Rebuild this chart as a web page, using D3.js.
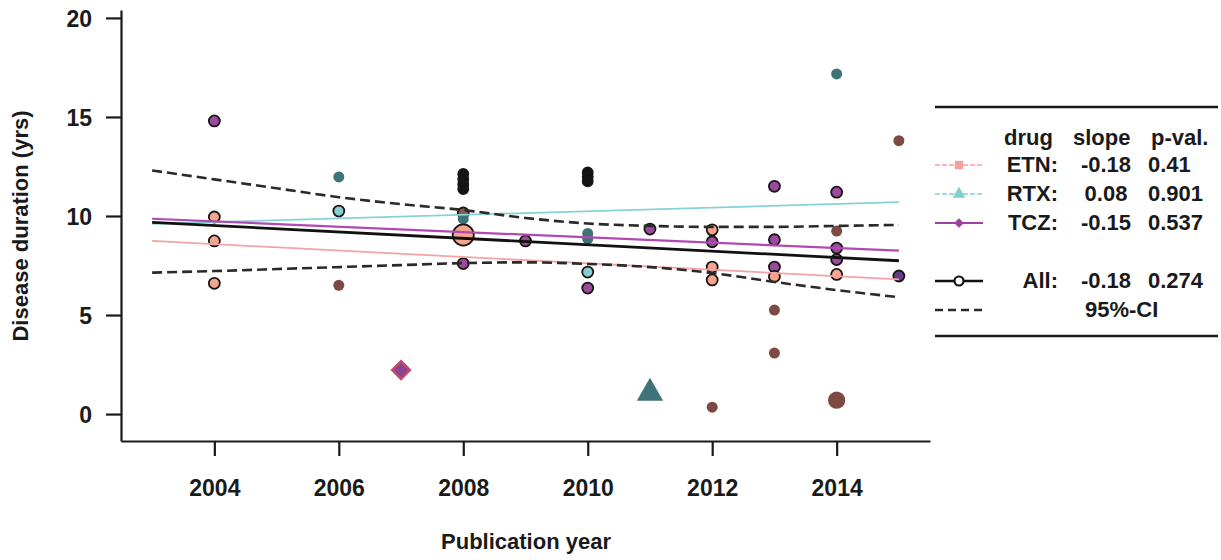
<!DOCTYPE html>
<html>
<head>
<meta charset="utf-8">
<script src="https://cdn.jsdelivr.net/npm/d3@7"></script>
<style>
  body { margin: 0; background: #fff; }
  svg text { font-family: "Liberation Sans", Arial, sans-serif; fill: #1a1a1a; }
</style>
</head>
<body>
<div id="chart"></div>
<script>
// Disease duration vs publication year, by drug

// Study points
var ptYear  = [2004, 2004, 2004, 2004,
               2006, 2006, 2006,
               2008, 2008, 2008, 2008, 2008, 2008, 2008, 2008,
               2009,
               2010, 2010, 2010, 2010, 2010, 2010, 2010,
               2011,
               2012, 2012, 2012, 2012, 2012,
               2013, 2013, 2013, 2013, 2013, 2013,
               2014, 2014, 2014, 2014, 2014, 2014, 2014,
               2015, 2015];
var ptValue = [14.8, 9.95, 8.74, 6.6,
               11.97, 10.25, 6.5,
               12.12, 11.86, 11.6, 11.36, 10.15, 9.85, 9.04, 7.6,
               8.74,
               12.2, 11.97, 11.75, 9.12, 8.85, 7.17, 6.36,
               9.34,
               9.3, 8.7, 7.42, 6.77, 0.35,
               11.5, 8.8, 7.42, 6.95, 5.25, 3.08,
               17.17, 11.2, 9.24, 8.38, 7.8, 7.05, 0.7,
               13.8, 6.97];
var ptGroup = ["tcz", "etn", "etn", "etn",
               "rtxAlt", "rtx", "oth",
               "all", "all", "all", "all", "othLine", "rtxAlt", "etn", "tcz",
               "tcz",
               "all", "all", "all", "rtxAlt", "rtxAlt", "rtx", "tcz",
               "tcz",
               "etn", "tcz", "etn", "etn", "oth",
               "tcz", "tcz", "tcz", "etn", "oth", "oth",
               "rtxAlt", "tcz", "oth", "tcz", "tcz", "etn", "oth",
               "oth", "tczDark"];
var ptWeight = [1, 1, 1, 1,
                1, 1, 1,
                0.85, 0.85, 0.85, 0.85, 1, 1, 3.4, 1,
                1,
                0.85, 0.85, 0.85, 1, 1, 1, 1,
                1,
                1, 1, 1, 1, 1,
                1, 1, 1, 1, 1, 1,
                1, 1, 1, 1, 1, 1, 2.3,
                1, 1];

// Pooled summary markers
var sumYear  = [2007, 2011];
var sumValue = [2.22, 1.06];
var sumGroup = ["tcz", "rtxAlt"];

// Regression lines (values at 2003 and 2015)
var fitYears = [2003, 2015];
var etnFit = [8.74, 6.8];
var rtxFit = [9.6, 10.7];
var tczFit = [9.86, 8.25];
var allFit = [9.68, 7.74];

// 95% confidence band of the pooled fit
var ciYears = [2003, 2004, 2005, 2006, 2007, 2008, 2009, 2010, 2011, 2012, 2013, 2014, 2015];
var ciUpper = [12.3, 11.85, 11.4, 10.95, 10.6, 10.3, 9.9, 9.62, 9.5, 9.45, 9.45, 9.5, 9.55];
var ciLower = [7.14, 7.22, 7.32, 7.42, 7.52, 7.62, 7.66, 7.58, 7.42, 7.12, 6.67, 6.26, 5.9];

// Axes ticks
var xTicks = [2004, 2006, 2008, 2010, 2012, 2014];
var yTicks = [0, 5, 10, 15, 20];

// Legend table
var legDrugs  = ["ETN:", "RTX:", "TCZ:"];
var legSlopes = ["-0.18", "0.08", "-0.15"];
var legPvals  = ["0.41", "0.901", "0.537"];
var legAll    = ["All:", "-0.18", "0.274"];

var fillColor = {
    etn: "#f3a58e", rtx: "#86cfcf", tcz: "#9a4a9f", tczDark: "#6a3a8a",
    rtxAlt: "#3f7377", oth: "#7c4a42", othLine: "#8a5a50", all: "#141414"
};
var outlined = { etn: true, rtx: true, tcz: true, tczDark: true, othLine: true, all: true };

var svgWidth = 1221;
var svgHeight = 560;

var svg = d3.select("#chart").append("svg")
    .attr("width", svgWidth)
    .attr("height", svgHeight);

var x = d3.scaleLinear().domain([2002.5, 2015.5]).range([121, 930]);
var y = d3.scaleLinear().domain([-1.36, 20.4]).range([441, 10]);
var r = d3.scaleSqrt().domain([0, 1]).range([0, 6]);

// Axes
var xAxis = svg.append("g")
    .attr("transform", "translate(0,441)")
    .call(d3.axisBottom(x).tickValues(xTicks).tickFormat(d3.format("d"))
        .tickSize(15).tickSizeOuter(0).tickPadding(24));
var yAxis = svg.append("g")
    .attr("transform", "translate(121,0)")
    .call(d3.axisLeft(y).tickValues(yTicks).tickSize(15).tickSizeOuter(0).tickPadding(14));

[xAxis, yAxis].forEach(function(ax) {
    ax.select(".domain").attr("stroke", "#1a1a1a").attr("stroke-width", 2.2);
    ax.selectAll(".tick line").attr("stroke", "#1a1a1a").attr("stroke-width", 2.2);
    ax.selectAll(".tick text")
        .style("font-size", "23px").style("font-weight", "bold")
        .attr("fill", "#1a1a1a");
});
yAxis.selectAll(".tick text").attr("dy", "0.36em");

// Axis titles
svg.append("text")
    .attr("x", 526).attr("y", 549)
    .attr("text-anchor", "middle")
    .style("font-size", "22px")
    .style("font-weight", "bold")
    .text("Publication year");

svg.append("text")
    .attr("transform", "translate(28,226) rotate(-90)")
    .attr("text-anchor", "middle")
    .style("font-size", "22px")
    .style("font-weight", "bold")
    .text("Disease duration (yrs)");

// Study points
var points = ptYear.map(function(d, i) {
    return { year: d, value: ptValue[i], group: ptGroup[i], weight: ptWeight[i] };
});

svg.append("g").selectAll("circle")
    .data(points)
    .enter().append("circle")
    .attr("cx", d => x(d.year))
    .attr("cy", d => y(d.value))
    .attr("r", d => r(d.weight) - 0.5)
    .attr("fill", d => fillColor[d.group])
    .attr("stroke", d => outlined[d.group] ? "#1a1414" : "none")
    .attr("stroke-width", 1.8);

// Pooled summary markers
var summary = sumYear.map(function(d, i) {
    return { year: d, value: sumValue[i], group: sumGroup[i] };
});

svg.append("g").selectAll("path")
    .data(summary)
    .enter().append("path")
    .attr("transform", d => `translate(${x(d.year)},${y(d.value)})`)
    .attr("d", function(d) {
        if (d.group === "tcz") {
            return d3.symbol().type(d3.symbolDiamond2).size(200)();
        }
        return d3.symbol().type(d3.symbolTriangle).size(300)();
    })
    .attr("fill", d => d.group === "tcz" ? "#8a4494" : "#3f7377")
    .attr("stroke", d => d.group === "tcz" ? "#c8486a" : "none")
    .attr("stroke-width", 2.5);

// Regression lines
var fitLine = d3.line()
    .x(d => x(d[0]))
    .y(d => y(d[1]));

function pairs(xs, ys) {
    return xs.map((d, i) => [d, ys[i]]);
}

svg.append("path").datum(pairs(fitYears, etnFit))
    .attr("d", fitLine).attr("fill", "none")
    .attr("stroke", "#f4a4a4").attr("stroke-width", 1.8);
svg.append("path").datum(pairs(fitYears, rtxFit))
    .attr("d", fitLine).attr("fill", "none")
    .attr("stroke", "#86d2d6").attr("stroke-width", 1.8);
svg.append("path").datum(pairs(fitYears, tczFit))
    .attr("d", fitLine).attr("fill", "none")
    .attr("stroke", "#b04ab0").attr("stroke-width", 2.2);
svg.append("path").datum(pairs(fitYears, allFit))
    .attr("d", fitLine).attr("fill", "none")
    .attr("stroke", "#111").attr("stroke-width", 2.8);

var ciLine = d3.line()
    .x(d => x(d[0]))
    .y(d => y(d[1]))
    .curve(d3.curveMonotoneX);

[ciUpper, ciLower].forEach(function(band) {
    svg.append("path").datum(pairs(ciYears, band))
        .attr("d", ciLine).attr("fill", "none")
        .attr("stroke", "#2a2a2a").attr("stroke-width", 2.6)
        .attr("stroke-dasharray", "10,5");
});

// Legend
var legend = svg.append("g");

legend.append("line").attr("x1", 935).attr("x2", 1218).attr("y1", 107).attr("y2", 107)
    .attr("stroke", "#1a1a1a").attr("stroke-width", 2.5);
legend.append("line").attr("x1", 935).attr("x2", 1218).attr("y1", 336).attr("y2", 336)
    .attr("stroke", "#1a1a1a").attr("stroke-width", 2.5);

function legText(tx, ty, txt, anchor) {
    legend.append("text")
        .attr("x", tx).attr("y", ty)
        .attr("text-anchor", anchor)
        .style("font-size", "22px")
        .style("font-weight", "bold")
        .text(txt);
}

legText(1004, 145, "drug", "start");
legText(1073, 145, "slope", "start");
legText(1151, 145, "p-val.", "start");

var rowY = [172, 201, 230];
var rowColor = ["#f4a0a0", "#7fcfcf", "#a040a0"];
var rowSymbol = [d3.symbolSquare, d3.symbolTriangle, d3.symbolDiamond2];

legDrugs.forEach(function(d, i) {
    legend.append("line")
        .attr("x1", 935).attr("x2", 983)
        .attr("y1", rowY[i] - 7).attr("y2", rowY[i] - 7)
        .attr("stroke", rowColor[i])
        .attr("stroke-width", i === 2 ? 2.2 : 1.6)
        .attr("stroke-dasharray", i === 2 ? null : "5,2");
    legend.append("path")
        .attr("transform", `translate(959,${rowY[i] - 7})`)
        .attr("d", d3.symbol().type(rowSymbol[i]).size(i === 2 ? 60 : 70)())
        .attr("fill", rowColor[i]);
    legText(1058, rowY[i], d, "end");
    legText(1106, rowY[i], legSlopes[i], "middle");
    legText(1148, rowY[i], legPvals[i], "start");
});

legend.append("line")
    .attr("x1", 935).attr("x2", 983).attr("y1", 281).attr("y2", 281)
    .attr("stroke", "#111").attr("stroke-width", 2.4);
legend.append("circle")
    .attr("cx", 959).attr("cy", 281).attr("r", 4.5)
    .attr("fill", "#fff").attr("stroke", "#111").attr("stroke-width", 2.2);
legText(1058, 288, legAll[0], "end");
legText(1106, 288, legAll[1], "middle");
legText(1148, 288, legAll[2], "start");

legend.append("line")
    .attr("x1", 935).attr("x2", 983).attr("y1", 310).attr("y2", 310)
    .attr("stroke", "#2a2a2a").attr("stroke-width", 2.4)
    .attr("stroke-dasharray", "8,5");
legText(1085, 317, "95%-CI", "start");
</script>
</body>
</html>
